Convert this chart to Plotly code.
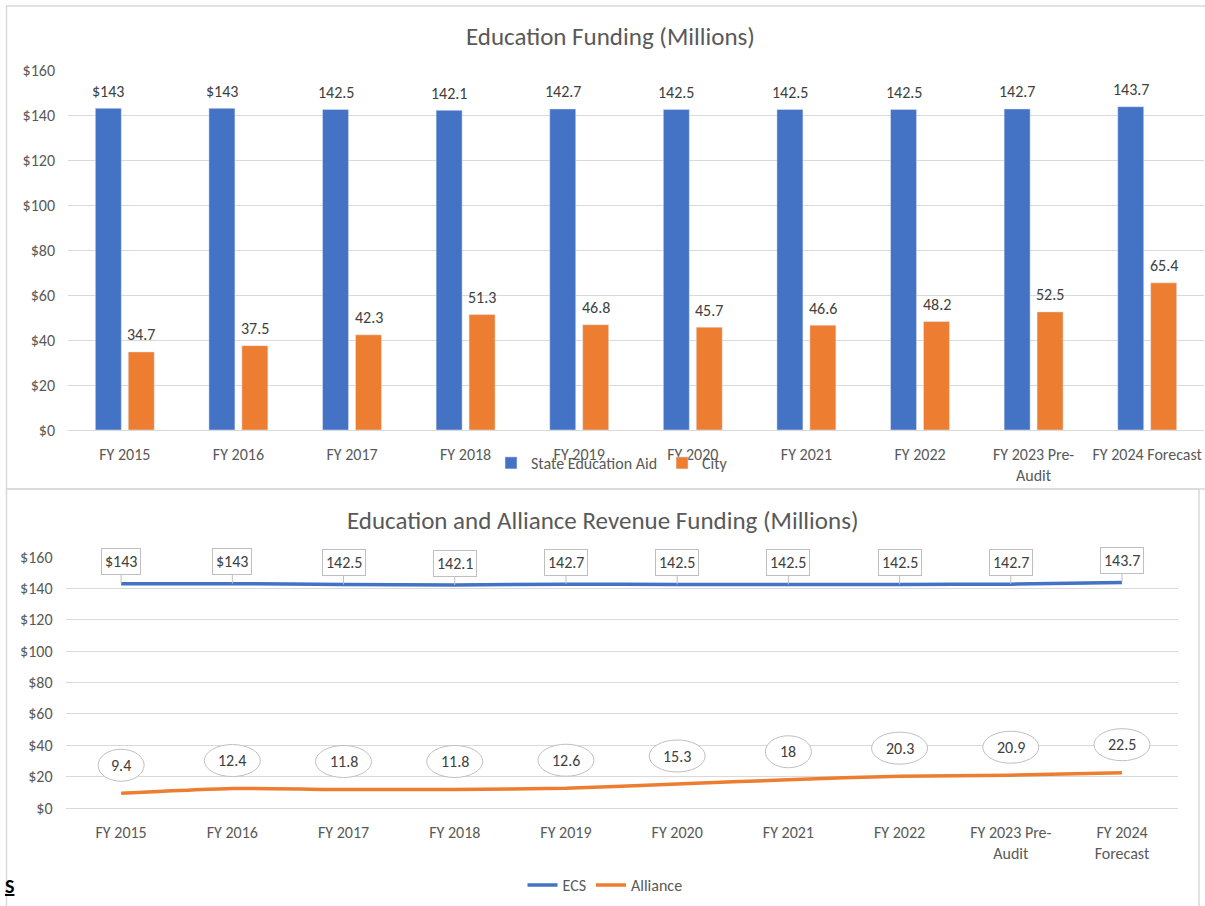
import plotly.graph_objects as go

W, H = 1205, 906

years_top = ["FY 2015", "FY 2016", "FY 2017", "FY 2018", "FY 2019", "FY 2020",
             "FY 2021", "FY 2022", "FY 2023 Pre-<br>Audit", "FY 2024 Forecast"]
years_bot = ["FY 2015", "FY 2016", "FY 2017", "FY 2018", "FY 2019", "FY 2020",
             "FY 2021", "FY 2022", "FY 2023 Pre-<br>Audit", "FY 2024<br>Forecast"]
state_aid = [143, 143, 142.5, 142.1, 142.7, 142.5, 142.5, 142.5, 142.7, 143.7]
state_lbl = ["$143", "$143", "142.5", "142.1", "142.7", "142.5", "142.5", "142.5", "142.7", "143.7"]
city = [34.7, 37.5, 42.3, 51.3, 46.8, 45.7, 46.6, 48.2, 52.5, 65.4]
city_lbl = ["34.7", "37.5", "42.3", "51.3", "46.8", "45.7", "46.6", "48.2", "52.5", "65.4"]
ecs = [143, 143, 142.5, 142.1, 142.7, 142.5, 142.5, 142.5, 142.7, 143.7]
ecs_lbl = ["$143", "$143", "142.5", "142.1", "142.7", "142.5", "142.5", "142.5", "142.7", "143.7"]
alliance = [9.4, 12.4, 11.8, 11.8, 12.6, 15.3, 18, 20.3, 20.9, 22.5]
alliance_lbl = ["9.4", "12.4", "11.8", "11.8", "12.6", "15.3", "18", "20.3", "20.9", "22.5"]
yticks = [0, 20, 40, 60, 80, 100, 120, 140, 160]
yticktext = ["$0", "$20", "$40", "$60", "$80", "$100", "$120", "$140", "$160"]

BLUE = "#4472c4"
ORANGE = "#ed7d31"
GRID = "#d9d9d9"
TXT = "#595959"
LBL = "#404040"
FONT = "Calibri, Carlito, 'Open Sans', sans-serif"
FS = 16


def px(x):
    return x / W


def py(y):
    return 1 - y / H


fig = go.Figure()

# top: grouped bars
fig.add_trace(go.Bar(x=list(range(10)), y=state_aid, name="State Education Aid",
                     marker_color=BLUE, xaxis="x", yaxis="y", legend="legend"))
fig.add_trace(go.Bar(x=list(range(10)), y=city, name="City",
                     marker_color=ORANGE, xaxis="x", yaxis="y", legend="legend"))

# bottom: lines
fig.add_trace(go.Scatter(x=list(range(10)), y=ecs, name="ECS", mode="lines",
                         line=dict(color=BLUE, width=3.5, shape="spline", smoothing=0.5),
                         xaxis="x2", yaxis="y2", legend="legend2"))
fig.add_trace(go.Scatter(x=list(range(10)), y=alliance, name="Alliance", mode="lines",
                         line=dict(color=ORANGE, width=3.5, shape="spline", smoothing=0.5),
                         xaxis="x2", yaxis="y2", legend="legend2"))

annotations = []
shapes = []

# bar labels
for i in range(10):
    annotations.append(dict(x=i, y=state_aid[i], xref="x", yref="y", text=state_lbl[i],
                            showarrow=False, xshift=-16.5, yshift=17,
                            font=dict(size=FS, color=LBL, family=FONT)))
    annotations.append(dict(x=i, y=city[i], xref="x", yref="y", text=city_lbl[i],
                            showarrow=False, xshift=16.5, yshift=17,
                            font=dict(size=FS, color=LBL, family=FONT)))

# ECS callout boxes
for i in range(10):
    annotations.append(dict(x=i, y=ecs[i], xref="x2", yref="y2", text=ecs_lbl[i],
                            showarrow=True, arrowhead=0, arrowwidth=1, arrowcolor="#bfbfbf",
                            ax=0, ay=-22, bordercolor="#bfbfbf", borderwidth=1, borderpad=3,
                            bgcolor="white", font=dict(size=FS, color=LBL, family=FONT)))

# Alliance ellipse callouts
for i in range(10):
    w = 46 if len(alliance_lbl[i]) <= 3 else 56
    shapes.append(dict(type="circle", xref="x2", yref="y2", xsizemode="pixel", ysizemode="pixel",
                       xanchor=i, yanchor=alliance[i], x0=-w / 2, x1=w / 2, y0=12, y1=44,
                       line=dict(color="#bfbfbf", width=1), fillcolor="white", layer="above"))
    annotations.append(dict(x=i, y=alliance[i], xref="x2", yref="y2", text=alliance_lbl[i],
                            showarrow=False, yshift=28,
                            font=dict(size=FS, color=LBL, family=FONT)))

# chart titles
annotations.append(dict(x=px(610), y=py(37), xref="paper", yref="paper", showarrow=False,
                        xanchor="center", yanchor="middle",
                        text="Education Funding (Millions)",
                        font=dict(size=25, color=TXT, family=FONT)))
annotations.append(dict(x=px(603), y=py(520), xref="paper", yref="paper", showarrow=False,
                        xanchor="center", yanchor="middle",
                        text="Education and Alliance Revenue Funding (Millions)",
                        font=dict(size=25, color=TXT, family=FONT)))
annotations.append(dict(x=px(3), y=py(886), xref="paper", yref="paper", showarrow=False,
                        xanchor="left", yanchor="middle", text="<b><u>S</u></b>",
                        font=dict(size=20, color="black", family=FONT)))

# chart borders
shapes.append(dict(type="rect", xref="paper", yref="paper", x0=px(6.5), x1=1.01,
                   y0=py(489), y1=py(6), line=dict(color=GRID, width=1.5), layer="below"))
shapes.append(dict(type="rect", xref="paper", yref="paper", x0=px(6.5), x1=px(1199),
                   y0=-0.05, y1=py(489), line=dict(color=GRID, width=1.5), layer="below"))

axis_common = dict(showgrid=False, zeroline=False, ticks="", fixedrange=True,
                   showline=True, linecolor=GRID, linewidth=1, ticklabelstandoff=10,
                   ticklabeloverflow="allow", automargin=False,
                   tickvals=list(range(10)),
                   tickfont=dict(size=FS, color=TXT, family=FONT))
yaxis_common = dict(range=[0, 160], tickvals=yticks, ticktext=yticktext, showgrid=True,
                    gridcolor=GRID, gridwidth=1, zeroline=False, showline=False,
                    ticklabelstandoff=12, fixedrange=True, automargin=False,
                    tickfont=dict(size=FS, color=TXT, family=FONT))

fig.update_layout(
    width=W, height=H,
    margin=dict(l=0, r=0, t=0, b=0, autoexpand=False),
    paper_bgcolor="white", plot_bgcolor="white",
    barmode="group", bargap=0.42, bargroupgap=0.21,
    font=dict(family=FONT, color=TXT),
    showlegend=True,
    xaxis=dict(domain=[px(68), px(1204)], anchor="y", range=[-0.5, 9.5],
               ticktext=years_top, **axis_common),
    yaxis=dict(domain=[py(430), py(70)], anchor="x", **yaxis_common),
    xaxis2=dict(domain=[px(65.5), px(1177.6)], anchor="y2", range=[-0.5, 9.5],
                ticktext=years_bot, **axis_common),
    yaxis2=dict(domain=[py(808), py(557)], anchor="x2", **yaxis_common),
    legend=dict(orientation="h", x=px(612), y=py(463), xanchor="center", yanchor="middle",
                bgcolor="rgba(0,0,0,0)", font=dict(size=FS, color=TXT, family=FONT),
                itemwidth=30),
    legend2=dict(orientation="h", x=px(605), y=py(885), xanchor="center", yanchor="middle",
                 bgcolor="rgba(0,0,0,0)", font=dict(size=FS, color=TXT, family=FONT)),
    annotations=annotations,
    shapes=shapes,
)

# drop the default body margin so the figure sits flush in the window
fig.write_html("out.html", config={"displayModeBar": False},
               post_script="document.body.style.margin='0';"
                           "document.body.style.overflow='hidden';")
